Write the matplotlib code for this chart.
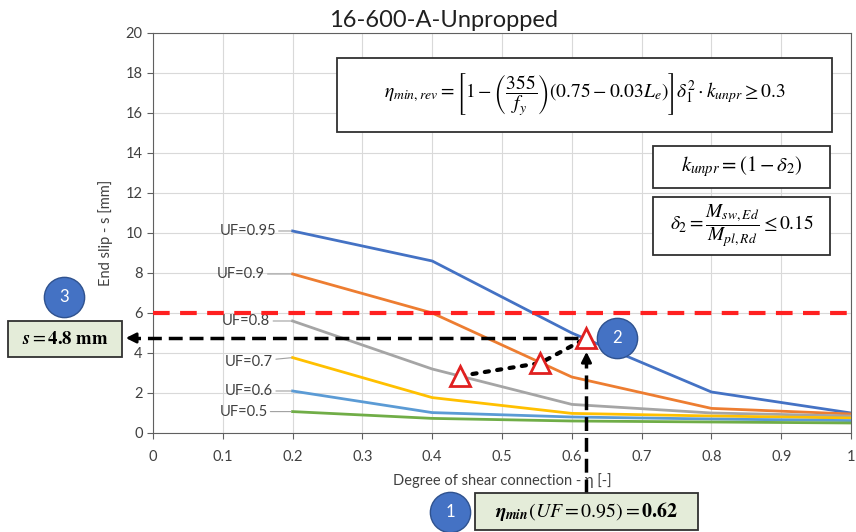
import numpy as np
import matplotlib.pyplot as plt
from matplotlib.patches import Rectangle

plt.rcParams['font.family'] = ['Lato', 'DejaVu Sans']
plt.rcParams['mathtext.fontset'] = 'stix'

# data
eta = [0.2, 0.4, 0.6, 0.8, 1.0]
uf_labels = ['UF=0.95', 'UF=0.9', 'UF=0.8', 'UF=0.7', 'UF=0.6', 'UF=0.5']
slip_095 = [10.1, 8.6, 5.0, 2.05, 1.0]
slip_090 = [7.95, 6.0, 2.8, 1.23, 0.95]
slip_080 = [5.6, 3.2, 1.43, 1.0, 0.85]
slip_070 = [3.77, 1.77, 0.98, 0.85, 0.75]
slip_060 = [2.1, 1.02, 0.8, 0.7, 0.62]
slip_050 = [1.07, 0.73, 0.6, 0.55, 0.5]
colors = ['#4472C4', '#ED7D31', '#A5A5A5', '#FFC000', '#5B9BD5', '#70AD47']

slip_limit = 6.0
tri_eta = [0.44, 0.555, 0.621]
tri_slip = [2.85, 3.5, 4.75]
eta_min = 0.621
s_read = 4.75

fig = plt.figure(figsize=(8.56, 5.32), dpi=100)
ax = fig.add_axes([0.1787, 0.1861, 0.8155, 0.7519])

series = [slip_095, slip_090, slip_080, slip_070, slip_060, slip_050]
# label offsets (points) relative to the first point of each curve
offs = [(-12, 0), (-20, 0), (-16, 0), (-14, -3), (-14, 0), (-18, 0)]
for s, c, lab, o in zip(series, colors, uf_labels, offs):
    ax.plot(eta, s, color=c, lw=2, zorder=3)
    ax.annotate(lab, xy=(eta[0], s[0]), xytext=o, textcoords='offset points',
                ha='right', va='center', fontsize=10.5, color='#404040',
                arrowprops=dict(arrowstyle='-', color='#A0A0A0', lw=0.8,
                                shrinkA=0, shrinkB=1))

ax.axhline(slip_limit, color='#FF2020', lw=3, ls=(0, (4, 2.5)), zorder=4)

# triangles joined by a dotted line
ax.plot(tri_eta, tri_slip, color='black', ls=(0, (1, 2)), lw=3, zorder=5,
        dash_capstyle='round')
ax.plot(tri_eta, tri_slip, ls='none', marker='^', ms=14, mfc='white',
        mec='#E02020', mew=2, zorder=6)

# dashed reading arrows
ax.plot([eta_min - 0.012, -0.032], [s_read, s_read], color='black', lw=2.5,
        ls=(0, (4, 2)), clip_on=False, zorder=7)
ax.annotate('', xy=(-0.043, s_read), xytext=(-0.02, s_read),
            arrowprops=dict(arrowstyle='-|>', color='black', lw=2,
                            mutation_scale=15), annotation_clip=False)
ax.plot([eta_min, eta_min], [-3.0, 3.7], color='black', lw=2.5,
        ls=(0, (4, 2)), clip_on=False, zorder=7)
ax.annotate('', xy=(eta_min, 4.2), xytext=(eta_min, 3.5),
            arrowprops=dict(arrowstyle='-|>', color='black', lw=2,
                            mutation_scale=15), annotation_clip=False)

ax.set_xlim(0, 1)
ax.set_ylim(0, 20)
ax.set_xticks(np.arange(0, 1.01, 0.1))
ax.set_xticklabels(['0', '0.1', '0.2', '0.3', '0.4', '0.5', '0.6', '0.7', '0.8', '0.9', '1'])
ax.set_yticks(np.arange(0, 21, 2))
ax.tick_params(labelsize=10.5, labelcolor='#404040', color='#606060', length=4)
ax.tick_params(axis='x', pad=8)
ax.grid(True, color='#D9D9D9', lw=0.8)
ax.set_axisbelow(True)
for sp in ax.spines.values():
    sp.set_color('#606060')
ax.set_xlabel('Degree of shear connection - η [-]', fontsize=10.5, color='#404040', labelpad=7)
ax.set_ylabel('End slip - s [mm]', fontsize=10.5, color='#404040', labelpad=9)

fig.text(0.518, 0.962, '16-600-A-Unpropped', ha='center', va='center', fontsize=17, color='#202020')


def box(x0, y0, x1, y1, txt, fc='white', fs=13):
    fig.add_artist(Rectangle((x0, y0), x1 - x0, y1 - y0, transform=fig.transFigure,
                             fc=fc, ec='#303030', lw=1.3, zorder=10))
    fig.text((x0 + x1) / 2, (y0 + y1) / 2, txt, ha='center', va='center',
             fontsize=fs, zorder=11)


box(0.3937, 0.752, 0.972, 0.891,
    r'$\eta_{min,rev} = \left[1-\left(\dfrac{355}{f_y}\right)(0.75-0.03L_e)\right]\delta_1^2\cdot k_{unpr} \geq 0.3$',
    fs=14)
box(0.763, 0.647, 0.970, 0.726, r'$k_{unpr} = (1-\delta_2)$', fs=15)
box(0.763, 0.521, 0.970, 0.630, r'$\delta_2 = \dfrac{M_{sw,Ed}}{M_{pl,Rd}} \leq 0.15$', fs=14)
box(0.0093, 0.329, 0.1425, 0.3966, r'$\mathbfit{s} = \mathbf{4.8\ mm}$', fc='#E4ECD9', fs=13.5)
box(0.555, 0.004, 0.815, 0.0733,
    r'$\mathbfit{\eta}_{\mathbfit{min}}(UF = 0.95) = \mathbf{0.62}$', fc='#E4ECD9', fs=14.3)

# numbered circles
for cx, cy, n in [(0.0748, 0.4417, '3'), (0.7208, 0.3647, '2'), (0.5257, 0.0376, '1')]:
    fig.add_artist(plt.Line2D([cx], [cy], marker='o', ms=29, mfc='#4472C4',
                              mec='#2F528F', mew=1, transform=fig.transFigure, zorder=12))
    fig.text(cx, cy, n, ha='center', va='center', color='white', fontsize=12, zorder=13)

fig.savefig('out.png', dpi=100)
